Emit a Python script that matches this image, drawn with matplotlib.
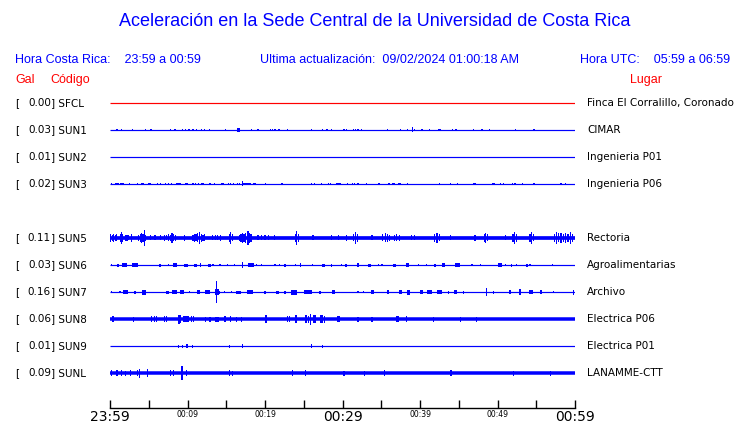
import matplotlib
matplotlib.use("Agg")
import matplotlib.pyplot as plt

# station codes, peak acceleration (gal) and site names, top to bottom
CODES = ["SFCL", "SUN1", "SUN2", "SUN3", "SUN5", "SUN6", "SUN7", "SUN8", "SUN9", "SUNL"]
GAL = [0.00, 0.03, 0.01, 0.02, 0.11, 0.03, 0.16, 0.06, 0.01, 0.09]
PLACES = ["Finca El Corralillo, Coronado", "CIMAR", "Ingenieria P01", "Ingenieria P06",
          "Rectoria", "Agroalimentarias", "Archivo", "Electrica P06", "Electrica P01",
          "LANAMME-CTT"]
# rows in the plot (row 4 is left empty)
ROWS = [0, 1, 2, 3, 5, 6, 7, 8, 9, 10]

# time axis: minutes after 23:59
TICK_MIN = [0, 5, 10, 15, 20, 25, 30, 35, 40, 45, 50, 55, 60]
TICK_LBL = ["23:59", "", "00:09", "", "00:19", "", "00:29", "", "00:39", "", "00:49", "", "00:59"]

# bursts: (minute, half amplitude in px, duration in minutes)
SFCL = []
SUN1 = [(0.9, 1.2, 0.3), (1.5, 1.2, 0.15), (2.9, 1.2, 0.15), (4.6, 1.2, 0.15), (5.3, 0.8, 0.15),
        (7.8, 1.0, 0.15), (8.4, 1.3, 0.3), (9.4, 1.2, 0.15), (9.7, 1.0, 0.15), (10.2, 1.3, 0.25),
        (10.7, 1.3, 0.15), (11.2, 0.8, 0.15), (11.8, 1.0, 0.15), (12.2, 1.2, 0.15), (12.8, 0.8, 0.15),
        (14.9, 1.2, 0.15), (16.6, 2.3, 0.4), (18.3, 1.2, 0.15), (19.1, 0.8, 0.15), (20.7, 1.2, 0.15),
        (21.0, 1.2, 0.15), (21.3, 1.3, 0.2), (21.8, 1.3, 0.25), (22.9, 1.2, 0.15), (26.0, 1.2, 0.15),
        (27.4, 1.2, 0.15), (28.0, 1.3, 0.25), (28.6, 0.8, 0.15), (30.2, 1.2, 0.15), (30.5, 1.2, 0.15),
        (31.4, 1.0, 0.15), (31.7, 1.2, 0.15), (32.0, 1.2, 0.15), (32.5, 1.0, 0.15), (35.8, 1.0, 0.15),
        (37.5, 1.2, 0.15), (38.4, 1.2, 0.15), (39.0, 2.5, 0.15), (39.3, 1.0, 0.15), (40.2, 1.3, 0.25),
        (41.2, 1.0, 0.15), (42.5, 1.3, 0.35), (44.2, 1.2, 0.15), (44.7, 1.3, 0.25), (46.9, 1.2, 0.15),
        (48.0, 1.2, 0.15), (49.0, 1.2, 0.15), (52.3, 1.0, 0.15), (54.7, 1.3, 0.25)]
SUN2 = []
SUN3 = [(0.2, 1.2, 0.15), (0.9, 1.4, 0.5), (1.6, 1.4, 0.5), (2.5, 1.2, 0.15), (3.5, 1.2, 0.15),
        (4.2, 1.4, 0.4), (5.1, 1.4, 0.35), (6.1, 1.2, 0.15), (6.5, 1.0, 0.15), (7.2, 1.2, 0.15),
        (7.5, 1.2, 0.15), (7.9, 1.2, 0.15), (8.8, 1.4, 0.6), (9.9, 1.4, 0.4), (10.7, 1.2, 0.15),
        (11.0, 1.2, 0.15), (11.4, 1.2, 0.15), (11.8, 1.2, 0.15), (12.0, 1.2, 0.15), (12.9, 1.2, 0.2),
        (13.5, 1.0, 0.15), (14.5, 1.4, 0.4), (15.3, 1.2, 0.15), (15.6, 1.2, 0.15), (15.9, 1.2, 0.15),
        (16.4, 1.2, 0.15), (16.7, 1.4, 0.2), (17.6, 1.4, 1.2), (17.1, 2.5, 0.15), (18.5, 1.2, 0.15),
        (18.7, 1.2, 0.15), (20.1, 1.2, 0.15), (22.2, 1.0, 0.15), (26.0, 1.2, 0.15), (26.4, 1.0, 0.15),
        (27.3, 1.0, 0.15), (28.2, 1.2, 0.15), (28.5, 1.2, 0.15), (29.5, 1.4, 0.55), (30.6, 1.2, 0.15),
        (31.3, 1.2, 0.15), (31.6, 1.2, 0.15), (32.0, 1.2, 0.15), (33.1, 1.0, 0.15), (34.7, 1.4, 0.35),
        (36.0, 1.2, 0.15), (36.6, 1.4, 0.4), (37.3, 1.4, 0.4), (38.4, 1.2, 0.15), (42.5, 1.2, 0.15),
        (43.9, 1.2, 0.15), (44.8, 1.0, 0.15), (47.0, 1.4, 0.35), (49.5, 1.4, 0.4), (50.4, 1.2, 0.15),
        (50.8, 1.2, 0.15), (51.9, 1.2, 0.15), (52.3, 1.4, 0.25), (53.2, 1.2, 0.15), (54.7, 1.4, 0.35),
        (58.2, 1.2, 0.25), (58.8, 1.2, 0.15)]
SUN5 = [(0.1, 4.0, 0.15), (0.3, 3.0, 0.2), (0.5, 4.0, 0.15), (0.7, 3.0, 0.2), (0.85, 3.5, 0.15),
        (1.35, 4.0, 0.15), (1.5, 6.0, 0.15), (1.65, 4.0, 0.15), (2.0, 3.0, 0.15), (2.2, 3.0, 0.15),
        (2.4, 2.5, 0.15), (2.8, 4.0, 0.15), (3.7, 3.0, 0.15), (3.9, 4.0, 0.15), (4.1, 5.0, 0.15),
        (4.25, 4.0, 0.15), (4.4, 8.0, 0.15), (4.55, 3.0, 0.15), (5.2, 2.5, 0.15), (5.8, 2.5, 0.15),
        (6.5, 2.5, 0.15), (7.0, 3.0, 0.15), (7.3, 2.5, 0.15), (7.6, 3.5, 0.15), (7.85, 3.0, 0.15),
        (8.0, 5.0, 0.15), (8.2, 3.5, 0.15), (8.45, 3.0, 0.15), (9.6, 3.0, 0.2), (10.7, 3.0, 0.15),
        (10.9, 4.0, 0.15), (11.1, 3.5, 0.15), (11.3, 4.5, 0.15), (11.6, 6.0, 0.15), (11.8, 4.0, 0.15),
        (12.0, 3.0, 0.15), (12.2, 3.5, 0.15), (13.2, 2.5, 0.15), (13.6, 2.5, 0.15), (13.9, 2.5, 0.15),
        (14.3, 3.0, 0.15), (15.4, 4.0, 0.15), (15.6, 6.0, 0.15), (15.8, 3.5, 0.15), (16.7, 3.0, 0.15),
        (16.9, 4.0, 0.15), (17.1, 5.0, 0.15), (17.3, 4.0, 0.15), (17.5, 5.0, 0.15), (17.8, 7.0, 0.15),
        (18.0, 5.0, 0.15), (18.2, 4.0, 0.15), (19.1, 2.5, 0.15), (19.5, 2.5, 0.15), (20.0, 2.5, 0.15),
        (20.5, 2.5, 0.15), (21.2, 2.5, 0.15), (23.9, 4.0, 0.15), (24.1, 7.0, 0.15), (24.3, 4.0, 0.15),
        (26.2, 2.5, 0.15), (28.6, 2.5, 0.15), (29.5, 2.5, 0.15), (30.5, 3.0, 0.15), (31.4, 3.5, 0.15),
        (31.7, 6.0, 0.15), (31.9, 4.0, 0.15), (33.8, 2.5, 0.15), (35.2, 3.5, 0.15), (35.5, 4.5, 0.15),
        (35.8, 4.0, 0.15), (36.1, 3.0, 0.15), (36.7, 3.0, 0.15), (37.0, 3.5, 0.15), (37.4, 3.0, 0.15),
        (38.9, 2.5, 0.15), (39.3, 2.5, 0.15), (41.9, 4.0, 0.15), (42.2, 5.0, 0.15), (42.5, 3.5, 0.15),
        (43.9, 2.5, 0.15), (47.1, 3.0, 0.15), (48.3, 4.0, 0.15), (48.5, 5.0, 0.15), (48.7, 3.5, 0.15),
        (51.0, 2.5, 0.15), (52.0, 4.0, 0.15), (52.2, 6.0, 0.15), (52.4, 4.0, 0.15), (54.2, 4.0, 0.15),
        (54.4, 6.0, 0.15), (54.6, 3.5, 0.15), (57.4, 4.0, 0.15), (57.6, 6.0, 0.15), (57.9, 4.5, 0.15),
        (58.2, 5.0, 0.15), (58.5, 4.0, 0.15), (58.8, 5.0, 0.15), (59.1, 4.0, 0.15), (59.4, 6.0, 0.15),
        (59.7, 4.0, 0.15)]
SUN6 = [(0.2, 1.2, 0.15), (1.0, 1.5, 0.2), (1.9, 1.8, 0.7), (3.2, 1.8, 0.7), (6.5, 1.5, 0.25),
        (7.6, 1.2, 0.15), (8.4, 1.8, 0.5), (9.8, 1.5, 0.4), (11.0, 1.5, 0.4), (11.7, 1.8, 0.2),
        (12.8, 1.5, 0.4), (13.3, 1.2, 0.15), (14.2, 1.2, 0.15), (15.2, 1.2, 0.15), (16.1, 1.2, 0.15),
        (17.1, 3.0, 0.2), (18.2, 1.8, 0.8), (18.9, 1.2, 0.15), (19.5, 1.2, 0.15), (21.3, 1.2, 0.15),
        (21.9, 1.2, 0.15), (22.6, 1.5, 0.2), (23.9, 1.2, 0.15), (24.6, 1.8, 0.2), (26.1, 1.2, 0.15),
        (27.5, 1.5, 0.4), (28.6, 1.5, 0.2), (29.9, 1.2, 0.15), (30.5, 1.5, 0.25), (32.0, 1.8, 0.3),
        (33.5, 1.5, 0.3), (34.6, 1.2, 0.15), (35.1, 1.2, 0.15), (36.7, 1.5, 0.3), (38.4, 1.8, 0.3),
        (39.8, 1.2, 0.15), (40.8, 1.2, 0.15), (41.9, 1.5, 0.3), (43.0, 1.8, 0.4), (44.8, 1.8, 0.6),
        (46.7, 1.2, 0.15), (47.8, 1.2, 0.2), (50.3, 1.8, 0.5), (51.0, 1.2, 0.15), (51.8, 1.5, 0.2),
        (52.5, 1.2, 0.15), (53.8, 1.5, 0.2), (54.2, 1.2, 0.15), (57.1, 1.2, 0.15)]
SUN7 = [(0.2, 1.2, 0.15), (1.3, 1.2, 0.15), (2.0, 1.8, 0.6), (3.2, 1.5, 0.2), (4.4, 2.5, 0.45),
        (7.4, 1.5, 0.3), (8.3, 1.8, 0.6), (9.3, 2.0, 0.6), (10.3, 1.2, 0.15), (11.4, 1.8, 0.4),
        (12.6, 1.8, 0.6), (13.7, 11.0, 0.15), (13.8, 3.0, 0.4), (14.1, 1.5, 0.2), (14.8, 1.2, 0.15),
        (15.7, 1.2, 0.15), (16.6, 1.5, 0.6), (18.1, 1.8, 0.8), (20.0, 1.5, 0.2), (21.6, 1.5, 0.3),
        (22.6, 1.5, 0.2), (23.7, 2.5, 0.8), (25.5, 1.8, 1.0), (27.1, 1.5, 0.15), (28.8, 1.8, 0.35),
        (32.0, 1.2, 0.15), (32.7, 1.2, 0.15), (33.9, 1.8, 0.35), (35.9, 1.8, 0.3), (37.5, 1.8, 0.3),
        (38.5, 2.5, 0.4), (40.2, 1.8, 0.4), (41.2, 1.8, 0.6), (42.5, 1.8, 0.6), (43.7, 1.5, 0.2),
        (44.6, 1.8, 0.3), (45.6, 1.5, 0.2), (48.6, 4.0, 0.2), (49.5, 1.5, 0.2), (51.6, 1.8, 0.2),
        (52.9, 3.0, 0.2), (54.3, 1.8, 0.6), (55.6, 1.8, 0.3), (57.2, 1.2, 0.15), (59.8, 2.5, 0.2)]
SUN8 = [(0.4, 3.0, 0.2), (3.0, 2.5, 0.15), (5.4, 3.0, 0.15), (5.7, 3.0, 0.15), (6.0, 3.0, 0.15),
        (7.0, 3.0, 0.15), (7.3, 3.0, 0.2), (8.9, 4.5, 0.15), (9.1, 4.0, 0.2), (9.6, 3.0, 0.3),
        (10.0, 3.0, 0.3), (10.5, 3.0, 0.15), (10.8, 3.0, 0.2), (12.3, 2.5, 0.15), (12.9, 2.5, 0.15),
        (13.8, 2.5, 0.4), (14.8, 3.0, 0.3), (15.5, 3.0, 0.15), (16.3, 2.5, 0.15), (17.0, 2.5, 0.15),
        (20.1, 4.0, 0.25), (22.9, 3.0, 0.15), (23.2, 3.0, 0.15), (24.0, 4.0, 0.3), (25.3, 4.0, 0.3),
        (25.6, 3.5, 0.2), (25.9, 5.5, 0.15), (26.4, 4.0, 0.3), (27.3, 4.0, 0.3), (27.7, 3.5, 0.2),
        (29.5, 3.0, 0.3), (32.0, 2.5, 0.15), (33.8, 2.5, 0.15), (37.1, 3.0, 0.3), (38.3, 3.0, 0.15),
        (41.7, 2.5, 0.15), (45.2, 2.5, 0.15), (47.3, 2.5, 0.15)]
SUN9 = [(8.8, 1.5, 0.15), (9.4, 1.5, 0.15), (9.9, 2.0, 0.3), (10.6, 1.5, 0.15), (15.4, 1.5, 0.15),
        (17.1, 2.0, 0.15), (26.0, 2.0, 0.15), (27.4, 1.5, 0.15)]
SUNL = [(0.2, 3.0, 0.2), (0.9, 3.0, 0.2), (1.5, 3.0, 0.15), (2.0, 2.5, 0.15), (2.6, 3.0, 0.15),
        (3.6, 3.0, 0.15), (3.8, 4.5, 0.15), (4.8, 4.0, 0.15), (7.8, 3.0, 0.15), (8.2, 3.0, 0.15),
        (9.3, 7.0, 0.15), (9.9, 3.0, 0.15), (15.4, 3.0, 0.15), (15.8, 2.5, 0.15), (23.5, 3.0, 0.15),
        (25.2, 3.0, 0.15), (30.2, 2.5, 0.15), (32.8, 2.5, 0.15), (35.4, 3.0, 0.2), (44.0, 3.0, 0.25),
        (52.1, 2.5, 0.15), (56.8, 2.5, 0.15)]
BURSTS = [SFCL, SUN1, SUN2, SUN3, SUN5, SUN6, SUN7, SUN8, SUN9, SUNL]

# styles
BLUE = "#0000ff"
RED = "#ff0000"
TRACE_COLORS = [RED] + [BLUE] * 9
BASE_PX = [1.2, 1.2, 1.2, 1.2, 3.7, 1.2, 1.2, 3.5, 1.2, 3.5]

W, H = 740, 423
fig = plt.figure(figsize=(W / 100, H / 100), dpi=100)


def px_text(x, y, s, **kw):
    fig.text(x / W, 1 - y / H, s, va="center", **kw)


# trace area: x 110..575 px, y 90..408 px (data y = pixels from the top)
ax = fig.add_axes([110 / W, (H - 408) / H, 465 / W, 318 / H])
ax.set_xlim(0, 60)
ax.set_ylim(318, 0)

for row, bursts, col, base in zip(ROWS, BURSTS, TRACE_COLORS, BASE_PX):
    yc = 13 + 27 * row
    ax.hlines(yc, 0, 60, color=col, linewidth=base * 0.72)
    if bursts:
        t = [b[0] for b in bursts]
        a = [b[1] for b in bursts]
        w = [b[2] for b in bursts]
        ax.bar(t, [2 * v for v in a], width=w, bottom=[yc - v for v in a],
               color=col, linewidth=0, antialiased=False)

for s in ["top", "left", "right"]:
    ax.spines[s].set_visible(False)
ax.spines["bottom"].set_linewidth(1)
ax.set_yticks([])
ax.set_xticks(TICK_MIN)
ax.set_xticklabels(TICK_LBL)
ax.tick_params(axis="x", direction="in", length=5.5, width=1, pad=1.5)
for lbl, txt in zip(ax.get_xticklabels(), TICK_LBL):
    if txt in ("23:59", "00:29", "00:59"):
        lbl.set_fontsize(10)
    else:
        lbl.set_fontsize(5.5)

# header
fig.text(375 / W, 1 - 22 / H, "Aceleración en la Sede Central de la Universidad de Costa Rica",
         ha="center", va="center", color=BLUE, fontsize=13, family="Liberation Sans")
hdr = dict(color=BLUE, fontsize=9, family="Liberation Sans")
px_text(15, 60, "Hora Costa Rica:    23:59 a 00:59", **hdr)
px_text(260, 60, "Ultima actualización:  09/02/2024 01:00:18 AM", **hdr)
px_text(580, 60, "Hora UTC:    05:59 a 06:59", **hdr)
red = dict(color=RED, fontsize=9, family="Liberation Sans")
px_text(15, 80, "Gal", **red)
px_text(50, 80, "Código", **red)
px_text(662, 80, "Lugar", ha="right", **red)

# station labels
for row, code, gal, place in zip(ROWS, CODES, GAL, PLACES):
    y = 103 + 27 * row
    px_text(15, y, "[", fontsize=7.5)
    px_text(51, y, f"{gal:.2f}", ha="right", fontsize=7.5)
    px_text(51, y, "] " + code, fontsize=7.5)
    px_text(587, y, place, fontsize=7.5)

fig.savefig("out.png", dpi=100)
